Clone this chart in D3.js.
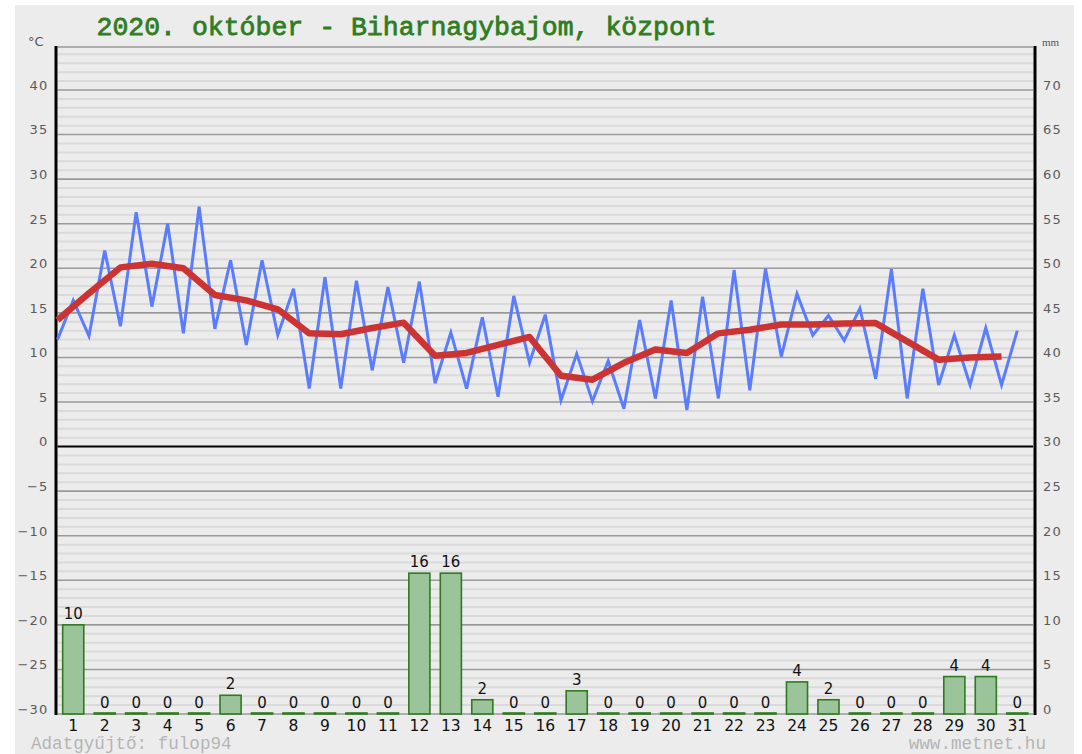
<!DOCTYPE html>
<html>
<head>
<meta charset="utf-8">
<script src="https://cdn.jsdelivr.net/npm/d3@7"></script>
<style>
  html, body { margin: 0; padding: 0; background: #ffffff; }
  svg { display: block; }
</style>
</head>
<body>
<svg id="chart" width="1082" height="754"></svg>
<script>
// ---------------- data ----------------
const titleText = "2020. október - Biharnagybajom, központ";
const days = d3.range(1, 32);
const tMin = [12.0, 12.4, 13.5, 15.7, 12.7, 13.2, 11.4, 12.5, 6.5, 6.5, 8.55, 9.4, 7.1, 6.5, 5.6, 9.4,
              5.2, 5.1, 4.25, 5.4, 4.1, 5.4, 6.3, 10.1, 12.5, 11.9, 7.6, 5.4, 6.9, 6.9, 6.9];
const tMax = [16.4, 22.0, 26.3, 25.0, 26.9, 20.9, 20.9, 17.7, 19.0, 18.6, 17.9, 18.5, 12.8, 14.5, 16.9, 14.8,
              10.4, 9.6, 14.2, 16.4, 16.8, 19.8, 19.95, 17.15, 14.7, 15.5, 19.9, 17.7, 12.5, 13.3, 13.0];
const tMean = [14.2, 17.2, 20.1, 20.5, 20.0, 17.0, 16.4, 15.4, 12.7, 12.6, 13.3, 13.9, 10.2, 10.5, 11.4, 12.3,
               7.95, 7.5, 9.4, 10.9, 10.5, 12.7, 13.1, 13.7, 13.7, 13.8, 13.85, 11.8, 9.75, 10.0, 10.1];
const precip = [10, 0, 0, 0, 0, 2.1, 0, 0, 0, 0, 0, 15.8, 15.8, 1.6, 0, 0, 2.6, 0, 0, 0, 0, 0, 0, 3.6, 1.6,
                0, 0, 0, 4.2, 4.2, 0];
const tempTicks = d3.range(-30, 41, 5);
const mmTicks = d3.range(0, 71, 5);
const minorTicks = d3.range(-30, 45, 1);
const footLeft = "Adatgyűjtő: fulop94";
const footRight = "www.metnet.hu";

// ---------------- layout ----------------
const L = 57.5, R = 1033, TOP = 47, BOT = 714;
const svg = d3.select("#chart");

// panel background
svg.append("rect").attr("x", 15).attr("y", 5).attr("width", 1059).attr("height", 760).attr("fill", "#ececec");

const yT = d3.scaleLinear().domain([-30, 40]).range([BOT, 90]);
const yP = d3.scaleLinear().domain([0, 70]).range([BOT, 90]);
const xDay = d3.scaleLinear().domain([0.5, 31.5]).range([L, R]);
const xBand = d3.scaleBand().domain(days).range([L, R]).paddingInner(0.33).paddingOuter(0.165);

// minor grid
svg.append("g").selectAll("line").data(minorTicks.filter(v => v % 5 !== 0)).join("line")
  .attr("x1", L).attr("x2", R).attr("y1", d => yT(d)).attr("y2", d => yT(d))
  .attr("stroke", "#dadada").attr("stroke-width", 2);
// major grid
svg.append("g").selectAll("line").data(tempTicks.filter(v => v !== 0)).join("line")
  .attr("x1", L).attr("x2", R).attr("y1", d => yT(d)).attr("y2", d => yT(d))
  .attr("stroke", "#9a9a9a").attr("stroke-width", 1.6);
// top border
svg.append("line").attr("x1", L).attr("x2", R).attr("y1", TOP).attr("y2", TOP)
  .attr("stroke", "#9a9a9a").attr("stroke-width", 1.6);
// zero line
svg.append("line").attr("x1", L).attr("x2", R).attr("y1", yT(0)).attr("y2", yT(0))
  .attr("stroke", "#000").attr("stroke-width", 2);

// left axis
const axL = d3.axisLeft(yT).tickValues(tempTicks).tickSize(0).tickPadding(9);
const gL = svg.append("g").attr("transform", `translate(${L},0)`).call(axL);
gL.select(".domain").remove();
gL.selectAll("text").attr("dy", "-0.6").attr("fill", "#5a5a5a")
  .style("font-family", "'DejaVu Sans', Verdana, sans-serif").style("font-size", "13px")
  .style("letter-spacing", "1.2px");
// right axis
const axR = d3.axisRight(yP).tickValues(mmTicks).tickSize(0).tickPadding(8);
const gR = svg.append("g").attr("transform", `translate(${R},0)`).call(axR);
gR.select(".domain").remove();
gR.selectAll("text").attr("dy", "-0.6").attr("x", 10).attr("fill", "#5a5a5a")
  .style("font-family", "'DejaVu Sans', Verdana, sans-serif").style("font-size", "13px")
  .style("letter-spacing", "1.2px");

// axis frame lines
svg.append("line").attr("x1", L - 1.5).attr("x2", L - 1.5).attr("y1", TOP - 1).attr("y2", BOT + 1)
  .attr("stroke", "#000").attr("stroke-width", 3);
svg.append("line").attr("x1", R + 2).attr("x2", R + 2).attr("y1", TOP - 1).attr("y2", BOT + 1)
  .attr("stroke", "#000").attr("stroke-width", 3);

// unit labels
svg.append("text").attr("x", 28).attr("y", 46).text("°C").attr("fill", "#555")
  .style("font-family", "'DejaVu Sans', sans-serif").style("font-size", "13px");
svg.append("text").attr("x", 1042).attr("y", 46).text("mm").attr("fill", "#555")
  .style("font-family", "'Liberation Serif', serif").style("font-size", "11px");

// precipitation bars
const bars = svg.append("g");
bars.selectAll("rect").data(days).join("rect")
  .attr("x", d => xBand(d))
  .attr("width", xBand.bandwidth())
  .attr("y", d => Math.min(yP(precip[d - 1]), BOT - 1))
  .attr("height", d => Math.max(BOT - yP(precip[d - 1]), 1))
  .attr("fill", "#9bc49a").attr("stroke", "#2f7a1f").attr("stroke-width", 1.6);
const fmt = d3.format(".0f");
bars.selectAll("text").data(days).join("text")
  .attr("x", d => xBand(d) + xBand.bandwidth() / 2)
  .attr("y", d => yP(precip[d - 1]) - 6)
  .attr("text-anchor", "middle").attr("fill", "#111")
  .style("font-family", "'DejaVu Sans', Verdana, sans-serif").style("font-size", "15px")
  .text(d => fmt(precip[d - 1]));

// day axis
const axB = d3.axisBottom(xBand).tickSize(0).tickPadding(0);
const gB = svg.append("g").attr("transform", `translate(0,${BOT})`).call(axB);
gB.select(".domain").remove();
gB.selectAll("text").attr("y", 17).attr("dy", 0).attr("fill", "#111")
  .style("font-family", "'DejaVu Sans', Verdana, sans-serif").style("font-size", "15.5px");

// temperature lines
const blueData = days.flatMap(d => [{x: d - 0.5, v: tMin[d - 1]}, {x: d, v: tMax[d - 1]}]);
const redData = days.map(d => ({x: d - 0.5, v: tMean[d - 1]}));
const line = d3.line().x(p => xDay(p.x)).y(p => yT(p.v));
svg.append("path").datum(blueData).attr("d", line)
  .attr("fill", "none").attr("stroke", "#5a7cff").attr("stroke-width", 3).attr("stroke-linejoin", "miter");
svg.append("path").datum(redData).attr("d", line)
  .attr("fill", "none").attr("stroke", "#cc3333").attr("stroke-width", 6.5).attr("stroke-linejoin", "round");

// title
svg.append("text").attr("x", 96.5).attr("y", 35).text(titleText)
  .attr("fill", "#2f7d1f").attr("stroke", "#2f7d1f").attr("stroke-width", 0.8)
  .style("font-family", "'Liberation Mono', 'Courier New', monospace")
  .style("font-size", "26.5px");

// footer
svg.append("text").attr("x", 31).attr("y", 749).text(footLeft)
  .attr("fill", "#b5b5b5").style("font-family", "'Liberation Mono', monospace").style("font-size", "17.6px");
svg.append("text").attr("x", 1046).attr("y", 749).attr("text-anchor", "end").text(footRight)
  .attr("fill", "#b5b5b5").style("font-family", "'Liberation Mono', monospace").style("font-size", "17.6px");
</script>
</body>
</html>
